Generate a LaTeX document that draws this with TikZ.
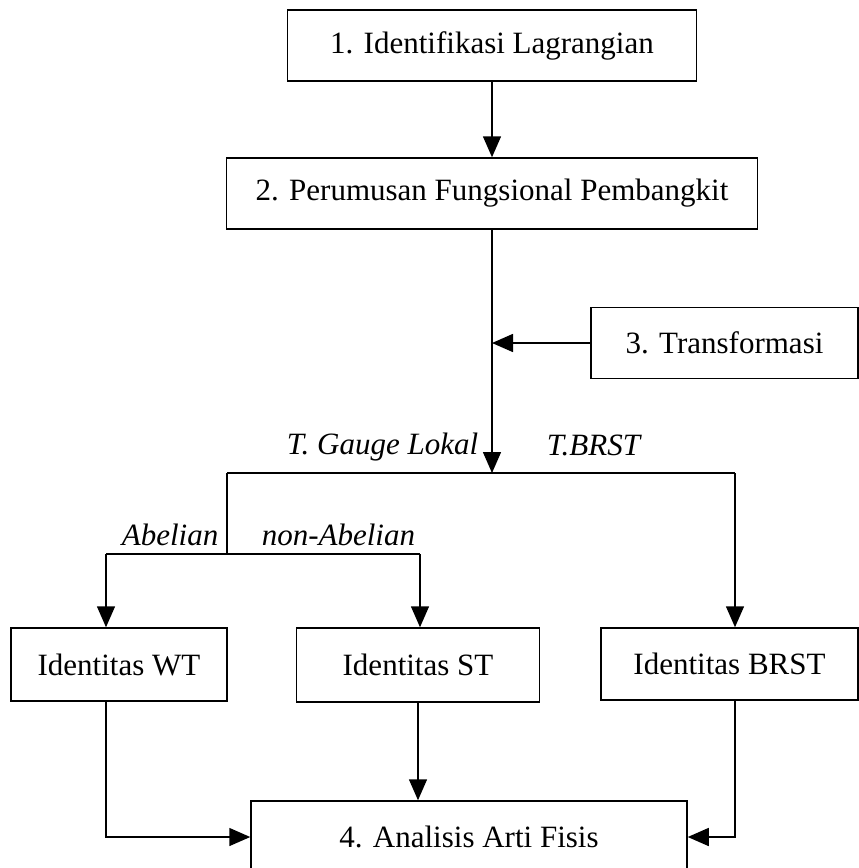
\documentclass[tikz,border=0pt]{standalone}
\usepackage{fontspec}
\setmainfont{Liberation Serif}
\usetikzlibrary{arrows.meta}

\begin{document}
\begin{tikzpicture}[x=1pt, y=-1pt, line width=1.5pt,
  box/.style={draw, rectangle, inner sep=0pt, font=\fontsize{31}{37}\selectfont},
  lbl/.style={inner sep=0pt, font=\fontsize{31}{37}\selectfont\itshape},
  arr/.style={-{Triangle[length=21pt, width=18pt]}}]
  \useasboundingbox (0,0) rectangle (859,868);
  \clip (0,0) rectangle (859,868);

  \node[box, minimum width=409pt, minimum height=71pt] (ident) at (492,45.5) {1. Identifikasi Lagrangian};
  \node[box, minimum width=531pt, minimum height=71pt] (fungsi) at (492,193.5) {2. Perumusan Fungsional Pembangkit};
  \node[box, minimum width=267pt, minimum height=71pt] (trans) at (724.5,343) {3. Transformasi};
  \node[box, minimum width=216pt, minimum height=73pt] (wt) at (119,664.5) {Identitas WT};
  \node[box, minimum width=243pt, minimum height=74pt] (st) at (418,665) {Identitas ST};
  \node[box, minimum width=257pt, minimum height=72pt] (brst) at (729.5,664) {Identitas BRST};
  \node[box, minimum width=436pt, minimum height=72pt] (analisis) at (469,837) {4. Analisis Arti Fisis};

  \node[lbl, anchor=base east] (gauge) at (479,454) {T. Gauge Lokal};
  \node[lbl, anchor=base west] (tbrst) at (546,455) {T.BRST};
  \node[lbl, anchor=base east] (abel) at (219,545) {Abelian};
  \node[lbl, anchor=base west] (nonabel) at (261,545) {non-Abelian};

  \coordinate (split) at (492,473);
  \coordinate (tl) at (227,473);
  \coordinate (tr) at (735,473);
  \coordinate (bsplit) at (227,554);
  \coordinate (bl) at (106,554);
  \coordinate (br) at (420,554);

  \draw[arr] (ident) -- (fungsi);
  \draw[arr] (fungsi) -- (split);
  \draw[arr] (trans) -- (trans -| split);
  \draw (tl) -- (tr);
  \draw (tl) -- (bsplit);
  \draw (bl) -- (br);
  \draw[arr] (tr) -- (tr |- brst.north);
  \draw[arr] (bl) -- (bl |- wt.north);
  \draw[arr] (br) -- (br |- st.north);
  \draw[arr] (st) -- (st |- analisis.north);
  \draw[arr] (wt.south -| bl) |- (analisis);
  \draw[arr] (brst.south -| tr) |- (analisis);
\end{tikzpicture}
\end{document}
